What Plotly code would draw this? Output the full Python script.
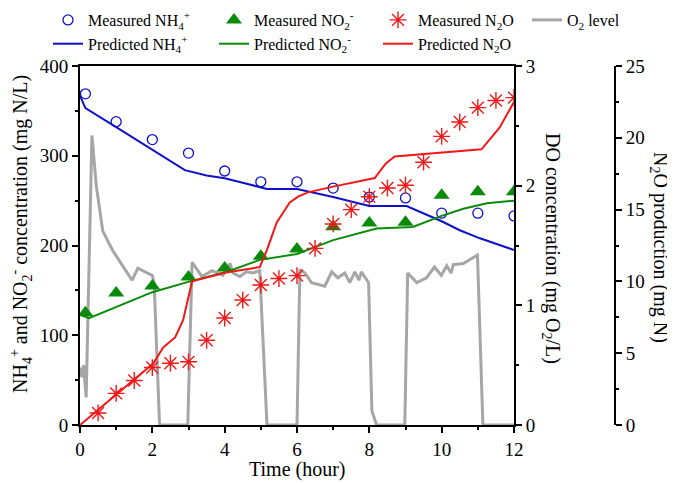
import plotly.graph_objects as go

# ---------------- data ----------------
t_meas = [0.15, 1, 2, 3, 4, 5, 6, 7, 8, 9, 10, 11, 12]
nh4_meas = [369, 338, 318, 303, 283, 271, 271, 264, 254, 253, 236, 236, 233]
no2_meas = [125, 147, 155, 165, 175, 188, 196, 221, 225, 226, 256, 260, 260]

t_n2o_meas = [0.5, 1, 1.5, 2, 2.5, 3, 3.5, 4, 4.5, 5, 5.5, 6,
              6.5, 7, 7.5, 8, 8.5, 9, 9.5, 10, 10.5, 11, 11.5, 12]
n2o_meas = [0.84, 2.2, 3.1, 4.0, 4.3, 4.4, 5.9, 7.45, 8.7, 9.75, 10.2, 10.4,
            12.3, 14.0, 15.0, 15.9, 16.5, 16.7, 18.3, 20.1, 21.1, 22.1, 22.6, 22.8]

t_nh4_pred = [0, 0.15, 1.0, 2.0, 2.9, 3.5, 4.0, 4.5, 5.17, 6.0, 7.0, 8.0, 9.03, 10.0, 10.5, 11.06, 11.5, 12]
nh4_pred = [367, 353, 332, 307, 284, 278, 275, 270, 263, 263, 254, 244, 244, 227, 217, 208, 202, 195]

t_no2_pred = [0, 0.25, 2.0, 3.04, 4.05, 4.97, 6.0, 7.0, 8.2, 9.2, 10.0, 10.6, 11.25, 12]
no2_pred = [123, 119, 148, 160, 170.5, 184, 190.5, 206, 219, 220.6, 233, 241, 247, 250]

t_n2o_pred = [0, 1.0, 2.03, 2.3, 2.63, 2.85, 3.1, 4.0, 4.97, 5.17, 5.44, 5.8, 6.03, 6.3, 7.0, 8.15, 8.45, 8.7, 11.1, 11.6, 12]
n2o_pred = [0, 2.1, 4.3, 5.4, 6.1, 7.3, 10.0, 10.6, 11.0, 12.2, 14.1, 15.5, 15.9, 16.2, 16.6, 17.2, 18.2, 18.7, 19.2, 20.7, 22.5]

t_do = [0, 0.05, 0.1, 0.17, 0.33, 0.45, 0.63, 0.9, 1.44, 1.6, 2.0, 2.05, 2.2,
        2.98, 3.1, 3.37, 3.65, 3.95, 4.15, 4.23, 4.42, 4.6, 4.78, 4.97, 5.17,
        6.0, 6.08, 6.22, 6.4, 6.77, 6.96, 7.13, 7.32, 7.46, 7.6, 7.71, 7.78, 7.98, 8.07, 8.2,
        8.98, 9.06, 9.31, 9.58, 9.8, 9.99, 10.14, 10.26, 10.32, 10.6, 10.99, 11.14, 12]
do_level = [0.48, 0.40, 0.50, 0.23, 2.42, 2.0, 1.62, 1.46, 1.21, 1.31, 1.25, 1.19, 0,
            0, 1.36, 1.24, 1.29, 1.25, 1.35, 1.27, 1.24, 1.28, 1.27, 1.29, 0,
            0, 1.30, 1.27, 1.19, 1.16, 1.28, 1.23, 1.27, 1.19, 1.28, 1.21, 1.28, 1.19, 0.12, 0,
            0, 1.27, 1.19, 1.23, 1.32, 1.25, 1.33, 1.27, 1.34, 1.35, 1.42, 0, 0]

x_ticks = [0, 2, 4, 6, 8, 10, 12]
left_ticks = [0, 100, 200, 300, 400]
do_ticks = [0, 1, 2, 3]
n2o_ticks = [0, 5, 10, 15, 20, 25]

# ---------------- style ----------------
FONT = "Liberation Serif, Times New Roman, serif"
BLUE = "#1010c8"
GREEN = "#0a8a0a"
RED = "#f01818"
GRAY = "#a6a6a6"

# figure geometry (page adds an 8px body margin)
W, H = 667, 475
ML, MR, MT, MB = 72, 60, 58, 58
PW = W - ML - MR       # paper width (plot + third axis)
PH = H - MT - MB       # plot height


def px(xs):            # screen px -> paper x
    return (xs - 8 - ML) / PW


def py(ys):            # screen px -> paper y
    return (H - MB - (ys - 8)) / PH


fig = go.Figure()

fig.add_trace(go.Scatter(x=t_do, y=do_level, mode="lines", name="O<sub>2</sub> level",
                         line=dict(color=GRAY, width=3), yaxis="y", legend="legend4"))

fig.add_trace(go.Scatter(x=t_meas, y=nh4_meas, mode="markers", name="Measured NH<sub>4</sub><sup>+</sup>",
                         marker=dict(symbol="circle-open", size=10, color=BLUE, line=dict(width=1.3, color=BLUE)),
                         yaxis="y2", legend="legend", legendgroup="a1"))
fig.add_trace(go.Scatter(x=t_nh4_pred, y=nh4_pred, mode="lines", name="Predicted NH<sub>4</sub><sup>+</sup>",
                         line=dict(color=BLUE, width=2), yaxis="y2", legend="legend", legendgroup="a2"))
fig.add_trace(go.Scatter(x=t_meas, y=no2_meas, mode="markers", name="Measured NO<sub>2</sub><sup>-</sup>",
                         marker=dict(symbol="triangle-up", size=14, color=GREEN),
                         yaxis="y2", legend="legend2", legendgroup="b1"))
fig.add_trace(go.Scatter(x=t_no2_pred, y=no2_pred, mode="lines", name="Predicted NO<sub>2</sub><sup>-</sup>",
                         line=dict(color=GREEN, width=2), yaxis="y2", legend="legend2", legendgroup="b2"))

fig.add_trace(go.Scatter(x=t_n2o_pred, y=n2o_pred, mode="lines", name="Predicted N<sub>2</sub>O",
                         line=dict(color=RED, width=2), yaxis="y3", legend="legend3", legendgroup="c2"))
fig.add_trace(go.Scatter(x=t_n2o_meas, y=n2o_meas, mode="markers", name="Measured N<sub>2</sub>O",
                         marker=dict(symbol="asterisk-open", size=14, color=RED, line=dict(width=1.4, color=RED)),
                         yaxis="y3", legend="legend3", legendgroup="c1"))

axis_common = dict(showgrid=False, zeroline=False, showline=True, linecolor="black", linewidth=2,
                   ticks="outside", ticklen=6, tickwidth=2, tickcolor="black", automargin=False,
                   tickfont=dict(family=FONT, size=19, color="black"))
minor_common = dict(ticklen=3, tickwidth=2, ticks="outside", tickcolor="black")

fig.update_layout(
    template="none",
    width=W, height=H,
    margin=dict(l=ML, r=MR, t=MT, b=MB, autoexpand=False),
    paper_bgcolor="white", plot_bgcolor="white",
    font=dict(family=FONT, size=19, color="black"),
    xaxis=dict(domain=[0, 434 / PW], range=[0, 12], tickvals=x_ticks, mirror=True,
               minor=dict(dtick=1, **minor_common), **axis_common),
    yaxis=dict(range=[0, 3], side="right", anchor="x", tickvals=do_ticks,
               minor=dict(dtick=0.5, **minor_common), **axis_common),
    yaxis2=dict(range=[0, 400], side="left", anchor="x", overlaying="y", tickvals=left_ticks,
                minor=dict(dtick=50, **minor_common), **axis_common),
    yaxis3=dict(range=[0, 25], side="right", anchor="free", position=1, overlaying="y", tickvals=n2o_ticks,
                minor=dict(dtick=2.5, **minor_common), **axis_common),
    showlegend=True,
)

legend_common = dict(orientation="v", xref="paper", yref="paper", xanchor="left", yanchor="top",
                     bgcolor="rgba(0,0,0,0)", font=dict(family=FONT, size=16), tracegroupgap=0,
                     itemwidth=30)
LEG_Y = py(3)
fig.update_layout(
    legend=dict(x=px(48), y=LEG_Y, **legend_common),
    legend2=dict(x=px(214), y=LEG_Y, **legend_common),
    legend3=dict(x=px(378), y=LEG_Y, traceorder="reversed", **legend_common),
    legend4=dict(x=px(527), y=LEG_Y, **legend_common),
)

TITLE_FONT = dict(family=FONT, size=20, color="black")
fig.add_annotation(text="Time (hour)", xref="paper", yref="paper", x=px(297), y=py(469),
                   showarrow=False, font=TITLE_FONT, xanchor="center", yanchor="middle")
fig.add_annotation(text="NH<sub>4</sub><sup>+</sup> and NO<sub>2</sub><sup>-</sup> concentration (mg N/L)",
                   xref="paper", yref="paper", x=px(21), y=py(234), textangle=-90,
                   showarrow=False, font=TITLE_FONT, xanchor="center", yanchor="middle")
fig.add_annotation(text="DO concentration (mg O<sub>2</sub>/L)", xref="paper", yref="paper",
                   x=px(552), y=py(248), textangle=90, showarrow=False,
                   font=TITLE_FONT, xanchor="center", yanchor="middle")
fig.add_annotation(text="N<sub>2</sub>O production (mg N)", xref="paper", yref="paper",
                   x=px(659), y=py(247), textangle=90, showarrow=False,
                   font=TITLE_FONT, xanchor="center", yanchor="middle")

fig.write_html("out.html")
